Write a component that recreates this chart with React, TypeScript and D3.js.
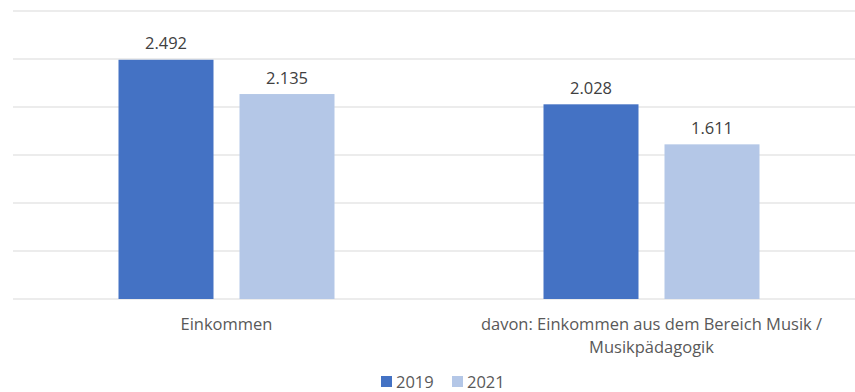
import React from "react";
import * as d3 from "d3";

const categories = ["Einkommen", "davon: Einkommen aus dem Bereich Musik / Musikpädagogik"];
const categoryLines = [["Einkommen"], ["davon: Einkommen aus dem Bereich Musik /", "Musikpädagogik"]];
const seriesNames = ["2019", "2021"];
const values2019 = [2.492, 2.028];
const values2021 = [2.135, 1.611];
const yTicks = [0, 0.5, 1, 1.5, 2, 2.5, 3];
const colors = ["#4472C4", "#B4C7E7"];

const W = 855;
const H = 392;
const font = "'Open Sans', 'Noto Sans', sans-serif";

export default function App() {
  const x0 = d3.scaleBand().domain(categories).range([14, 864]);
  const y = d3.scaleLinear().domain([0, 3]).range([299, 11]);
  const barW = 95;
  const gap = 26;
  const series = [values2019, values2021];
  const fmt = (v: number) => v.toFixed(3);

  return (
    <svg width={W} height={H} style={{ position: "absolute", left: 0, top: 0, background: "#fff" }}>
      {yTicks.map((t) => (
        <line key={t} x1={13} x2={W} y1={y(t)} y2={y(t)} stroke="#D9D9D9" strokeWidth={1} />
      ))}
      {categories.map((c, ci) => {
        const cx = (x0(c) as number) + x0.bandwidth() / 2;
        const start = cx - (barW * 2 + gap) / 2;
        return (
          <g key={c}>
            {series.map((s, si) => {
              const bx = start + si * (barW + gap);
              return (
                <g key={si}>
                  <rect x={bx} y={y(s[ci])} width={barW} height={y(0) - y(s[ci])} fill={colors[si]} />
                  <text
                    x={bx + barW / 2}
                    y={y(s[ci]) - 10.5}
                    textAnchor="middle"
                    fontFamily={font}
                    fontSize={16.5}
                    fill="#404040"
                  >
                    {fmt(s[ci])}
                  </text>
                </g>
              );
            })}
            {categoryLines[ci].map((ln, li) => (
              <text
                key={li}
                x={cx}
                y={330 + li * 23}
                textAnchor="middle"
                fontFamily={font}
                fontSize={16.5}
                fill="#595959"
              >
                {ln}
              </text>
            ))}
          </g>
        );
      })}
      {seriesNames.map((n, i) => {
        const lx = [381, 452][i];
        return (
          <g key={n}>
            <rect x={lx} y={376} width={11} height={11} fill={colors[i]} />
            <text x={lx + 15} y={387.5} fontFamily={font} fontSize={16.5} fill="#595959">
              {n}
            </text>
          </g>
        );
      })}
    </svg>
  );
}
